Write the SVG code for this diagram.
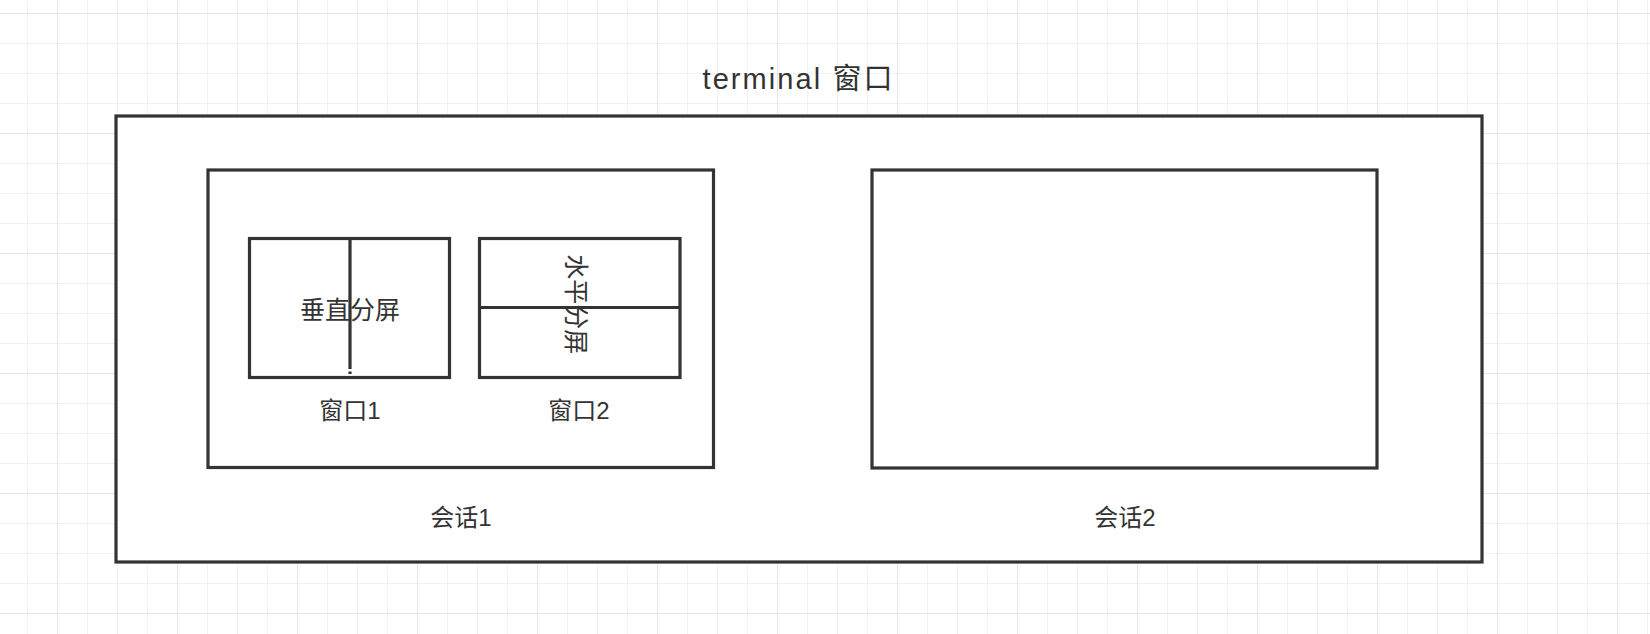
<svg xmlns="http://www.w3.org/2000/svg" width="1650" height="634" viewBox="0 0 1650 634">
<defs>
<pattern id="minor" x="27" y="13" width="30" height="30" patternUnits="userSpaceOnUse">
<path d="M0 0 H30 M0 0 V30" fill="none" stroke="#eeeeee" stroke-width="1.5"/>
</pattern>
<pattern id="major" x="57" y="13" width="120" height="120" patternUnits="userSpaceOnUse">
<path d="M0 0 H120 M0 0 V120" fill="none" stroke="#e3e3e3" stroke-width="1.5"/>
</pattern>
</defs>
<style>
.box{fill:#ffffff;stroke:#333333;stroke-width:3.2}
.ln{fill:none;stroke:#333333;stroke-width:3.2}
.t{font-family:"Liberation Sans","Noto Sans CJK SC",sans-serif;fill:#333333;text-anchor:middle}
</style>
<rect width="1650" height="634" fill="#ffffff"/>
<rect width="1650" height="634" fill="url(#minor)"/>
<rect width="1650" height="634" fill="url(#major)"/>
<text class="t" x="797.5" y="88.5" font-size="29" textLength="190" lengthAdjust="spacing">terminal 窗口</text>
<g id="terminal">
<rect class="box" x="116" y="116" width="1366" height="446"/>
</g>
<g id="session1">
<rect class="box" x="208" y="170" width="505.5" height="297.5"/>
<text class="t" x="461" y="526" font-size="24">会话1</text>
</g>
<g id="session2">
<rect class="box" x="872" y="170" width="505" height="298"/>
<text class="t" x="1125" y="526" font-size="24">会话2</text>
</g>
<g id="window1">
<rect class="box" x="249.5" y="238.5" width="200" height="139"/>
<text class="t" x="350" y="418.5" font-size="24">窗口1</text>
</g>
<g id="window2">
<rect class="box" x="479.5" y="238.5" width="200.5" height="139"/>
<text class="t" x="579" y="418.5" font-size="24">窗口2</text>
</g>
<g id="connectors">
<path class="ln" d="M350 238.5 V369 M350 371.5 V374"/>
<path class="ln" d="M479.5 307.5 H680"/>
</g>
<text class="t" x="350" y="318.7" font-size="25">垂直分屏</text>
<text class="t" font-size="25" transform="translate(576 304.2) rotate(90)" x="0" y="9.2">水平分屏</text>
</svg>
